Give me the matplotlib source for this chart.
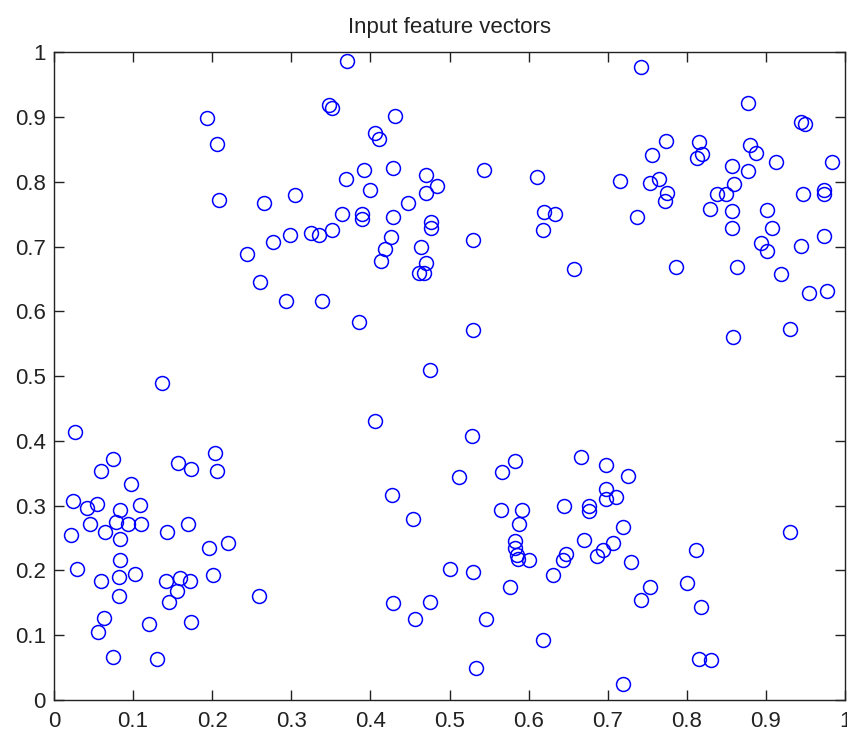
import matplotlib
matplotlib.use('Agg')
import matplotlib.pyplot as plt

# feature vectors (x, y), grouped roughly by cluster
x_upper_left = [0.194, 0.206, 0.208, 0.265, 0.305, 0.244, 0.277, 0.298, 0.325, 0.335,
                0.260, 0.293, 0.339, 0.371, 0.348, 0.351, 0.431, 0.406, 0.411, 0.392,
                0.429, 0.369, 0.399, 0.470, 0.484, 0.470, 0.544, 0.611, 0.447, 0.364,
                0.390, 0.390, 0.429, 0.477, 0.477, 0.620, 0.634, 0.618, 0.530, 0.352,
                0.426, 0.418, 0.413, 0.464, 0.470, 0.462, 0.468, 0.657, 0.385, 0.530,
                0.475]
y_upper_left = [0.898, 0.859, 0.772, 0.768, 0.780, 0.689, 0.707, 0.718, 0.721, 0.718,
                0.645, 0.616, 0.616, 0.986, 0.918, 0.914, 0.901, 0.875, 0.866, 0.819,
                0.822, 0.805, 0.787, 0.811, 0.793, 0.782, 0.819, 0.807, 0.768, 0.751,
                0.751, 0.743, 0.746, 0.738, 0.728, 0.754, 0.751, 0.725, 0.710, 0.725,
                0.715, 0.696, 0.678, 0.699, 0.675, 0.660, 0.659, 0.666, 0.583, 0.572,
                0.510]

x_upper_right = [0.742, 0.878, 0.944, 0.949, 0.774, 0.756, 0.815, 0.819, 0.813, 0.880,
                 0.887, 0.913, 0.984, 0.857, 0.878, 0.716, 0.753, 0.765, 0.775, 0.772,
                 0.860, 0.838, 0.849, 0.947, 0.973, 0.973, 0.829, 0.857, 0.901, 0.857,
                 0.908, 0.737, 0.974, 0.894, 0.901, 0.945, 0.786, 0.864, 0.919, 0.954,
                 0.977, 0.930, 0.859]
y_upper_right = [0.978, 0.922, 0.893, 0.890, 0.863, 0.842, 0.861, 0.843, 0.837, 0.857,
                 0.844, 0.831, 0.831, 0.825, 0.816, 0.802, 0.798, 0.805, 0.782, 0.771,
                 0.796, 0.781, 0.781, 0.781, 0.787, 0.781, 0.758, 0.755, 0.757, 0.728,
                 0.728, 0.746, 0.716, 0.705, 0.693, 0.701, 0.669, 0.669, 0.657, 0.628,
                 0.631, 0.573, 0.560]

x_lower_left = [0.137, 0.027, 0.075, 0.060, 0.097, 0.157, 0.173, 0.204, 0.206, 0.024,
                0.042, 0.054, 0.083, 0.109, 0.045, 0.078, 0.093, 0.110, 0.064, 0.083,
                0.021, 0.143, 0.169, 0.196, 0.220, 0.029, 0.083, 0.082, 0.060, 0.102,
                0.141, 0.159, 0.155, 0.172, 0.146, 0.201, 0.082, 0.259, 0.063, 0.056,
                0.120, 0.173, 0.075, 0.130]
y_lower_left = [0.489, 0.413, 0.372, 0.354, 0.334, 0.366, 0.357, 0.381, 0.354, 0.307,
                0.297, 0.302, 0.293, 0.301, 0.272, 0.275, 0.271, 0.272, 0.260, 0.249,
                0.255, 0.260, 0.272, 0.235, 0.242, 0.202, 0.216, 0.190, 0.184, 0.195,
                0.184, 0.189, 0.169, 0.184, 0.152, 0.193, 0.161, 0.161, 0.126, 0.105,
                0.117, 0.120, 0.067, 0.064]

x_lower_right = [0.406, 0.528, 0.583, 0.567, 0.512, 0.666, 0.698, 0.427, 0.454, 0.565,
                 0.592, 0.588, 0.645, 0.676, 0.676, 0.698, 0.698, 0.583, 0.583, 0.585,
                 0.586, 0.600, 0.670, 0.647, 0.643, 0.686, 0.694, 0.631, 0.501, 0.530,
                 0.576, 0.429, 0.475, 0.456, 0.546, 0.618, 0.533, 0.726, 0.711, 0.719,
                 0.707, 0.730, 0.811, 0.930, 0.753, 0.742, 0.800, 0.818, 0.815, 0.830,
                 0.719]
y_lower_right = [0.431, 0.408, 0.369, 0.352, 0.345, 0.375, 0.363, 0.316, 0.279, 0.293,
                 0.293, 0.272, 0.299, 0.299, 0.292, 0.325, 0.310, 0.245, 0.234, 0.224,
                 0.218, 0.216, 0.247, 0.226, 0.216, 0.223, 0.232, 0.193, 0.202, 0.198,
                 0.175, 0.149, 0.152, 0.125, 0.125, 0.093, 0.050, 0.346, 0.314, 0.267,
                 0.242, 0.213, 0.231, 0.260, 0.175, 0.155, 0.181, 0.143, 0.064, 0.061,
                 0.025]

ticks = [0, 0.1, 0.2, 0.3, 0.4, 0.5, 0.6, 0.7, 0.8, 0.9, 1]
tick_labels = ['0', '0.1', '0.2', '0.3', '0.4', '0.5', '0.6', '0.7', '0.8', '0.9', '1']

x = x_upper_left + x_upper_right + x_lower_left + x_lower_right
y = y_upper_left + y_upper_right + y_lower_left + y_lower_right

plt.rcParams['font.family'] = ['Liberation Sans', 'DejaVu Sans']

fig = plt.figure(figsize=(8.47, 7.35), dpi=100)
ax = fig.add_axes([54 / 847, 35 / 735, 791 / 847, 647.7 / 735])

ax.plot(x, y, linestyle='none', marker='o', markersize=10, markeredgewidth=1.1,
        markerfacecolor='none', markeredgecolor='#0000ff')

ax.set_xlim(0, 1)
ax.set_ylim(0, 1)
ax.set_xticks(ticks)
ax.set_xticklabels(tick_labels)
ax.set_yticks(ticks)
ax.set_yticklabels(tick_labels)
ax.tick_params(direction='in', length=7, width=1, top=True, right=True,
               labelsize=16, colors='#222222')
ax.tick_params(axis='x', pad=8)
ax.tick_params(axis='y', pad=6)
for side in ax.spines.values():
    side.set_linewidth(1)
    side.set_color('#222222')

ax.set_title('Input feature vectors', fontsize=16, pad=14, color='#222222')

fig.savefig('out.png', dpi=100)
